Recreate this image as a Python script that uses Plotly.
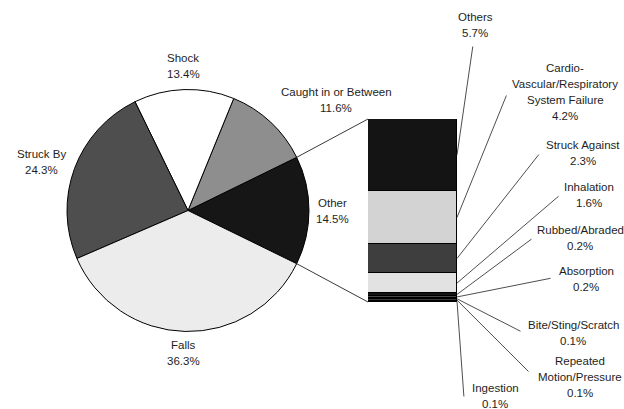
import math
import plotly.graph_objects as go

W, H = 624, 409

# ---------------- data ----------------
pie_labels = ["Other", "Caught in or Between", "Shock", "Struck By", "Falls"]
pie_values = [14.5, 11.6, 13.4, 24.3, 36.3]
pie_colors = ["#161616", "#8e8e8e", "#ffffff", "#4e4e4e", "#ececec"]

bar_labels = ["Ingestion", "Repeated Motion/Pressure", "Bite/Sting/Scratch",
              "Absorption", "Rubbed/Abraded", "Inhalation", "Struck Against",
              "Cardio-Vascular/Respiratory System Failure", "Others"]
bar_values = [0.1, 0.1, 0.1, 0.2, 0.2, 1.6, 2.3, 4.2, 5.7]
bar_colors = ["#202020", "#3a3a3a", "#1a1a1a", "#4a4a4a", "#151515",
              "#e2e2e2", "#3e3e3e", "#d3d3d3", "#141414"]
bar_label_lines = [["Ingestion"], ["Repeated", "Motion/Pressure"], ["Bite/Sting/Scratch"],
                   ["Absorption"], ["Rubbed/Abraded"], ["Inhalation"], ["Struck Against"],
                   ["Cardio-", "Vascular/Respiratory", "System Failure"], ["Others"]]

# ---------------- layout (pixels) ----------------
PIE_BOX = (67, 89, 309, 332)     # x0, y0, x1, y1
BAR_BOX = (368, 119, 457, 302)
LINE_H = 16
FONT = dict(family="Liberation Sans, Arial, Helvetica, sans-serif", size=11.5, color="#1e1e1e")

pie_label_pos = {
    "Other": (332, 210.5),
    "Caught in or Between": (336, 100),
    "Shock": (183, 66),
    "Struck By": (41, 162),
    "Falls": (183, 352.5),
}
bar_label_pos = {
    "Ingestion": (495, 396),
    "Repeated Motion/Pressure": (580, 377),
    "Bite/Sting/Scratch": (573, 332.5),
    "Absorption": (586, 278.5),
    "Rubbed/Abraded": (580, 238),
    "Inhalation": (589, 194.5),
    "Struck Against": (583, 153),
    "Cardio-Vascular/Respiratory System Failure": (565, 92),
    "Others": (475, 25),
}
leader_tail = {
    "Ingestion": (464, 398),
    "Repeated Motion/Pressure": (530, 373),
    "Bite/Sting/Scratch": (522, 332),
    "Absorption": (552, 278),
    "Rubbed/Abraded": (533, 238),
    "Inhalation": (560, 195),
    "Struck Against": (540, 153),
    "Cardio-Vascular/Respiratory System Failure": (507, 94),
    "Others": (473, 45),
}


def px(x):
    return x / W


def py(y):
    return 1 - y / H


total_other = sum(bar_values)
frac_other = pie_values[0] / sum(pie_values)

fig = go.Figure()

fig.add_trace(go.Pie(
    labels=pie_labels, values=pie_values, sort=False,
    direction="counterclockwise",
    rotation=90 - 180 * frac_other,
    marker=dict(colors=pie_colors, line=dict(color="#000000", width=1)),
    textinfo="none", hoverinfo="label+percent", showlegend=False,
    domain=dict(x=[px(PIE_BOX[0]), px(PIE_BOX[2])], y=[py(PIE_BOX[3]), py(PIE_BOX[1])]),
))

for lab, val, col in zip(bar_labels, bar_values, bar_colors):
    fig.add_trace(go.Bar(
        x=[0], y=[val], name=lab, width=1,
        marker=dict(color=col, line=dict(color="#000000", width=1)),
        showlegend=False, hoverinfo="name+y",
    ))

annotations = []


def add_block(lines, cx, cy):
    n = len(lines)
    for i, t in enumerate(lines):
        yy = cy + (i - (n - 1) / 2) * LINE_H
        annotations.append(dict(x=px(cx), y=py(yy), xref="paper", yref="paper",
                                text=t, showarrow=False, xanchor="center",
                                yanchor="middle", font=FONT))


for lab, val in zip(pie_labels, pie_values):
    cx, cy = pie_label_pos[lab]
    add_block([lab, f"{val:.1f}%"], cx, cy)

for lab, val, lines in zip(bar_labels, bar_values, bar_label_lines):
    cx, cy = bar_label_pos[lab]
    add_block(lines + [f"{val:.1f}%"], cx, cy)

# leader lines from labels to bar segments
cum = 0
bx0, by0, bx1, by1 = BAR_BOX
for lab, val in zip(bar_labels, bar_values):
    mid = cum + val / 2
    cum += val
    tx, ty = leader_tail[lab]
    annotations.append(dict(
        x=0.5, y=mid, xref="x", yref="y",
        ax=-0.5 + (tx - bx0) / (bx1 - bx0), ay=(by1 - ty) / (by1 - by0) * total_other,
        axref="x", ayref="y", text="", showarrow=True, arrowhead=0,
        arrowwidth=0.9, arrowcolor="#3a3a3a", standoff=0, startstandoff=0,
    ))

# connector lines between pie slice "Other" and the bar
pcx = (PIE_BOX[0] + PIE_BOX[2]) / 2
pcy = (PIE_BOX[1] + PIE_BOX[3]) / 2
r = (PIE_BOX[2] - PIE_BOX[0]) / 2
half = math.pi * frac_other
shapes = []
for sgn, bary in ((1, by0), (-1, by1)):
    sx = pcx + r * math.cos(half)
    sy = pcy - sgn * r * math.sin(half)
    shapes.append(dict(type="line", xref="paper", yref="paper",
                       x0=px(sx), y0=py(sy), x1=px(bx0), y1=py(bary),
                       line=dict(color="#3a3a3a", width=1)))

fig.update_layout(
    width=W, height=H, margin=dict(l=0, r=0, t=0, b=0),
    paper_bgcolor="white", plot_bgcolor="white",
    barmode="stack", bargap=0,
    xaxis=dict(domain=[px(bx0), px(bx1)], range=[-0.5, 0.5], visible=False, fixedrange=True),
    yaxis=dict(domain=[py(by1), py(by0)], range=[0, total_other], visible=False, fixedrange=True),
    annotations=annotations, shapes=shapes,
    font=FONT,
)

fig.write_html("out.html")
